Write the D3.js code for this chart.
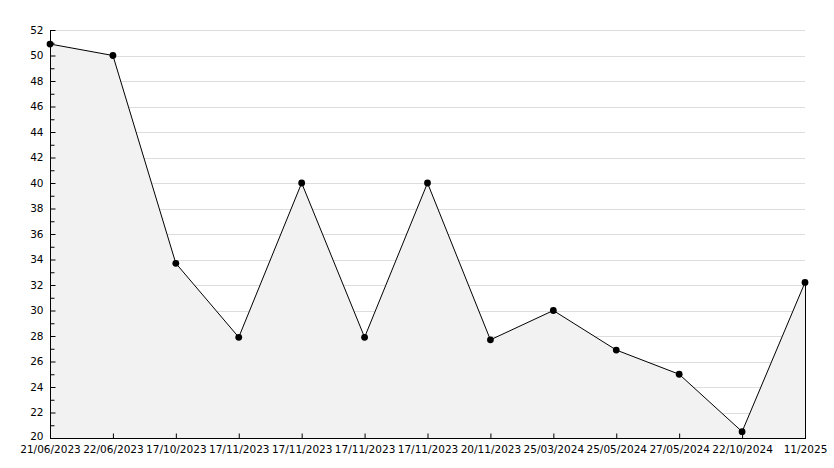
<!DOCTYPE html>
<html>
<head>
<meta charset="utf-8">
<script src="https://cdn.jsdelivr.net/npm/d3@7"></script>
<style>
  html, body { margin: 0; padding: 0; background: #fff; }
  svg { display: block; }
  text { font-family: "DejaVu Sans", sans-serif; font-size: 10.5px; fill: #000; }
</style>
</head>
<body>
<svg id="chart" width="834" height="468"></svg>
<script>
const categories = ["21/06/2023","22/06/2023","17/10/2023","17/11/2023","17/11/2023","17/11/2023","17/11/2023","20/11/2023","25/03/2024","25/05/2024","27/05/2024","22/10/2024","11/2025"];
const values = [50.9, 50, 33.7, 27.9, 40, 27.9, 40, 27.7, 30, 26.9, 25, 20.5, 32.2];
const yMajorTicks = [20,22,24,26,28,30,32,34,36,38,40,42,44,46,48,50,52];
const yMinorTicks = [21,23,25,27,29,31,33,35,37,39,41,43,45,47,49,51];

(function () {
const svg = d3.select("#chart");
const pL = 50, pR = 805, pT = 30, pB = 438;

const idx = categories.map((d, i) => i);
const x = d3.scalePoint().domain(idx).range([pL, pR]);
const y = d3.scaleLinear().domain([20, 52]).range([pB, pT]);

// gridlines
svg.append("g").selectAll("line").data(yMajorTicks.filter(v => v > 20)).join("line")
  .attr("x1", pL).attr("x2", pR)
  .attr("y1", d => Math.round(y(d)) + 0.5).attr("y2", d => Math.round(y(d)) + 0.5)
  .attr("stroke", "#dddddd").attr("stroke-width", 1);

// area
const area = d3.area().x((d, i) => x(i)).y0(y(20)).y1(d => y(d));
svg.append("path").datum(values).attr("d", area).attr("fill", "#f2f2f2");

// right edge of area
svg.append("line")
  .attr("x1", x(values.length - 1) + 0.5).attr("x2", x(values.length - 1) + 0.5)
  .attr("y1", y(values[values.length - 1])).attr("y2", pB)
  .attr("stroke", "#000").attr("stroke-width", 1);

// line
const line = d3.line().x((d, i) => x(i)).y(d => y(d));
svg.append("path").datum(values).attr("d", line)
  .attr("fill", "none").attr("stroke", "#000").attr("stroke-width", 1);

// markers
svg.append("g").selectAll("circle").data(values).join("circle")
  .attr("cx", (d, i) => x(i)).attr("cy", d => y(d)).attr("r", 3.4)
  .attr("fill", "#000");

// y axis
const yAxis = d3.axisLeft(y).tickValues(yMajorTicks).tickSize(-5).tickPadding(12).tickFormat(d3.format("d"));
const gy = svg.append("g").attr("transform", `translate(${pL + 0.5},0)`).call(yAxis);
gy.select(".domain").remove();
gy.selectAll("text").style("font-family", "DejaVu Sans").style("font-size", "10.5px").attr("x", -7);
gy.selectAll(".tick").filter(d => d === 20).select("text").attr("y", -2);
gy.selectAll(".tick line").attr("stroke", "#000");
const yMinor = d3.axisLeft(y).tickValues(yMinorTicks).tickSize(-4).tickFormat("");
const gym = svg.append("g").attr("transform", `translate(${pL + 0.5},0)`).call(yMinor);
gym.select(".domain").remove();

// x axis
const xAxis = d3.axisBottom(x).tickSize(-5).tickPadding(7).tickFormat(i => categories[i]);
const gx = svg.append("g").attr("transform", `translate(0,${pB + 0.5})`).call(xAxis);
gx.select(".domain").remove();
gx.selectAll("text").style("font-family", "DejaVu Sans").style("font-size", "10.5px");
gx.selectAll(".tick line").attr("stroke", "#000");
gx.selectAll(".tick").filter(i => i === 0 || i === categories.length - 1).select("line").remove();

// axis lines
svg.append("line").attr("x1", pL + 0.5).attr("x2", pL + 0.5).attr("y1", pT).attr("y2", pB + 1)
  .attr("stroke", "#000");
svg.append("line").attr("x1", pL).attr("x2", pR + 1).attr("y1", pB + 0.5).attr("y2", pB + 0.5)
  .attr("stroke", "#000");
})();
</script>
</body>
</html>
